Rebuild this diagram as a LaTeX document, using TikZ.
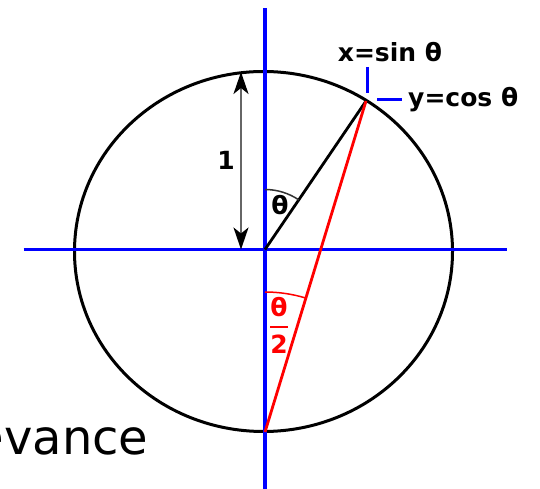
\documentclass[tikz,border=0pt]{standalone}
\usepackage{fontspec}
\usepackage{amsmath}
\setmainfont{DejaVu Sans}
\usetikzlibrary{arrows.meta}
\tikzset{radtip/.tip={Stealth[length=22pt,width=15pt,inset=6pt,black]}}
\begin{document}
\begin{tikzpicture}[x=1pt,y=1pt,
  axis/.style={blue, line width=3.2pt},
  tick/.style={blue, line width=3pt},
  lbl/.style={font=\fontsize{25}{29}\selectfont\bfseries, inner sep=0pt},
  thinarc/.style={line width=1.5pt}]
\useasboundingbox (0,0) rectangle (540,489);
\clip (0,0) rectangle (540,489);
\fill[white] (0,0) rectangle (540,489);
\coordinate (O) at (265,239.5);
\coordinate (B) at (265,57);
\coordinate (P) at (366,388);
\coordinate (C) at (263.5,237.5);
\coordinate (hl) at (23.5,239.5);
\coordinate (hr) at (506.5,239.5);
\coordinate (vt) at (265,481);
\coordinate (vb) at (265,0);
\coordinate (at) at (241,417);
\coordinate (ab) at (241,239.5);
\coordinate (t1a) at (367,422);
\coordinate (t1b) at (367,396);
\coordinate (t2a) at (377,389);
\coordinate (t2b) at (402,389);
% circle
\draw[line width=3pt] (C) ellipse [x radius=189, y radius=180];
% axes
\draw[axis] (hl) -- (hr);
\draw[axis] (vb) -- (vt);
% radius arrow
\draw[gray!80!black, line width=2pt, radtip-radtip] (ab) -- (at);
% lines
\draw[line width=2.8pt] (O) -- (P);
\draw[red, line width=2.8pt] (B) -- (P);
% arcs
\draw[thinarc, black!80] (O) ++(90:60) arc[start angle=90, end angle=55.7, radius=60];
\draw[thinarc, red] (B) ++(90:140) arc[start angle=90, end angle=73, radius=140];
% ticks
\draw[tick] (t1a) -- (t1b);
\draw[tick] (t2a) -- (t2b);
% labels
\node[lbl] (one) at (226,329) {1};
\node[lbl] (th) at (280,284) {θ};
\node[lbl, red] (th2) at (279,164) {$\genfrac{}{}{2.2pt}{0}{\text{θ}}{\text{2}}$};
\node[lbl] (xs) at (390,437) {x=sin θ};
\node[lbl, anchor=west] (yc) at (408,389) {y=cos θ};
\node[font=\fontsize{48}{54}\selectfont, inner sep=0pt, anchor=base west] (ev) at (-25.5,34) {evance};
\end{tikzpicture}
\end{document}
